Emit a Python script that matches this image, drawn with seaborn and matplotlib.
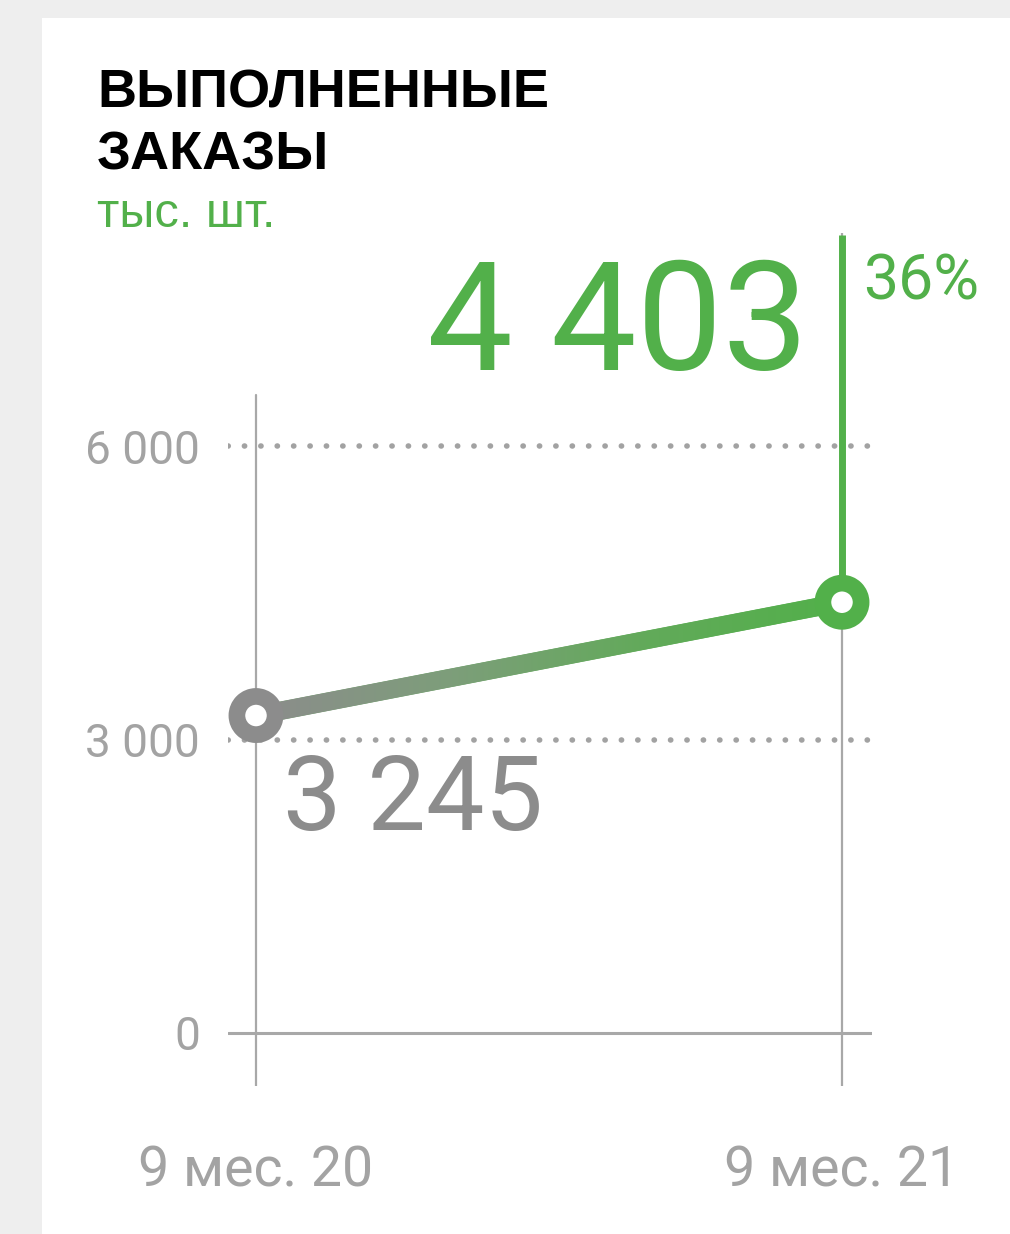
import numpy as np
import matplotlib
matplotlib.use("Agg")
import matplotlib.pyplot as plt
import seaborn as sns
from matplotlib.patches import Rectangle, Polygon
from matplotlib.colors import LinearSegmentedColormap
from matplotlib.transforms import IdentityTransform

# данные
periods = ["9 мес. 20", "9 мес. 21"]
orders = [3245, 4403]
growth_pct = 36
yticks = [0, 3000, 6000]
ytick_labels = ["0", "3 000", "6 000"]

GREEN = "#52B04A"
GRAY = "#8C8C8C"
AXIS = "#A8A8A8"
LABEL = "#A3A3A3"

sns.set_theme(style="white")
plt.rcParams["font.family"] = ["Roboto", "DejaVu Sans"]

W, H = 1010, 1234
fig = plt.figure(figsize=(W / 100, H / 100), dpi=100, facecolor="#EEEEEE")
fig.patches.append(Rectangle((42 / W, 0), 1 - 42 / W, 1 - 18 / H,
                             transform=fig.transFigure, facecolor="white",
                             edgecolor="none", zorder=-10))


def fx(px):
    return px / W


def fy(py):
    return 1 - py / H


# оси: пиксели 228..872 по x, 233..1086 по y
ax = fig.add_axes([fx(228), fy(1086), (872 - 228) / W, (1086 - 233) / H])
ax.set_facecolor("none")
ax.set_zorder(1)
px_per_x = 586.0
px_per_val = 293.5 / 3000
xlim = ((228 - 256) / px_per_x, (872 - 256) / px_per_x)
ylim = (-(1086 - 1033) / px_per_val, (1033 - 233) / px_per_val)
ax.set_xlim(*xlim)
ax.set_ylim(*ylim)
for s in ax.spines.values():
    s.set_visible(False)

xs = np.arange(len(periods))

# точечная сетка
for v in yticks[1:]:
    ax.axhline(v, color="#A2A2A2", lw=4, linestyle=(0, (0.05, 2.9)),
               dash_capstyle="round", zorder=1)
ax.axhline(0, color=AXIS, lw=2.2, zorder=1)
ax.axvline(xs[0], ymin=0, ymax=(1086 - 395) / (1086 - 233), color=AXIS, lw=1.6, zorder=1)
ax.axvline(xs[1], color=AXIS, lw=1.6, zorder=1)

# линия изменения
ax.vlines(xs[1], orders[1], ylim[1] - 2 / px_per_val, color=GREEN, lw=5, zorder=2)

# основная линия
sns.lineplot(x=xs, y=orders, ax=ax, color=GREEN, lw=13, zorder=3,
             solid_capstyle="butt")
ax.set_xlim(*xlim)
ax.set_ylim(*ylim)
fig.canvas.draw()
p0 = ax.transData.transform((xs[0], orders[0]))
p1 = ax.transData.transform((xs[1], orders[1]))
d = (p1 - p0) / np.hypot(*(p1 - p0))
n = np.array([-d[1], d[0]]) * 9.2
clip = Polygon([p0 + n, p1 + n, p1 - n, p0 - n], closed=True,
               transform=IdentityTransform(), facecolor="none", edgecolor="none")
ax.add_patch(clip)
cmap = LinearSegmentedColormap.from_list("g", [GRAY, "#7D9E7A", "#62AA5A", GREEN])
grad = np.linspace(0, 1, 256).reshape(1, -1)
im = ax.imshow(grad, cmap=cmap, aspect="auto", zorder=4,
               extent=(xs[0], xs[1], orders[0] - 400, orders[1] + 400))
im.set_clip_path(clip)
ax.set_xlim(*xlim)
ax.set_ylim(*ylim)

# маркеры
sns.scatterplot(x=xs, y=orders, ax=ax, s=27.5 ** 2, linewidth=12, zorder=5)
ax.collections[-1].set_facecolor("white")
ax.collections[-1].set_edgecolor([GRAY, GREEN])

# подписи осей
ax.set_yticks(yticks)
ax.set_yticklabels(ytick_labels)
ax.set_xticks(xs)
ax.set_xticklabels(periods)
ax.tick_params(axis="y", length=0, pad=20, labelsize=33, labelcolor=LABEL)
ax.tick_params(axis="x", length=0, pad=42, labelsize=40, labelcolor=LABEL)

# заголовок
fig.text(fx(97), fy(108), "ВЫПОЛНЕННЫЕ", fontsize=39, fontweight="bold",
         family="Liberation Sans", color="black", va="baseline")
fig.text(fx(97), fy(170), "ЗАКАЗЫ", fontsize=39, fontweight="bold",
         family="Liberation Sans", color="black", va="baseline")
fig.text(fx(97), fy(227), "тыс. шт.", fontsize=35, family="Liberation Sans",
         color=GREEN, va="baseline")

# значения
fig.text(fx(808), fy(370), f"{orders[1]:,}".replace(",", " "), fontsize=110,
         color=GREEN, ha="right", va="baseline")
fig.text(fx(863), fy(300), f"{growth_pct}%", fontsize=45,
         color=GREEN, ha="left", va="baseline")
fig.text(fx(283), fy(830), f"{orders[0]:,}".replace(",", " "), fontsize=75,
         color=GRAY, ha="left", va="baseline")

fig.savefig("out.png", dpi=100, facecolor=fig.get_facecolor())
